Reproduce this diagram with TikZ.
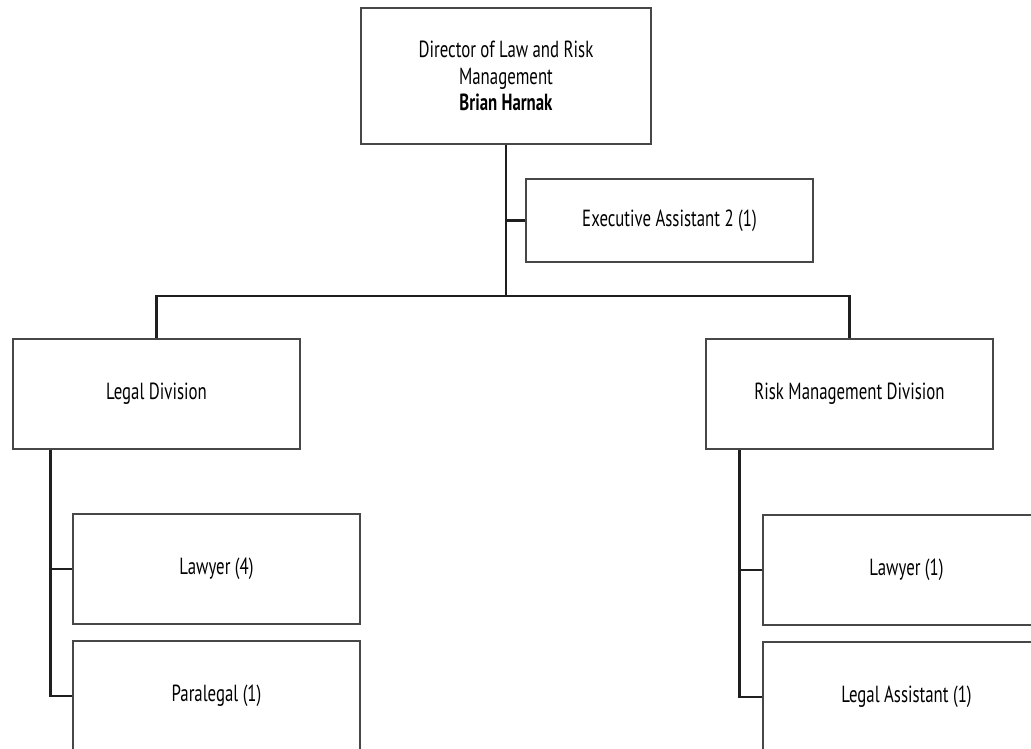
\documentclass[tikz,border=0pt]{standalone}
\usepackage{fontspec}
\setmainfont{PT Sans}[FakeStretch=0.72]
\usetikzlibrary{positioning}
\tikzset{every picture/.style={line width=0.75pt}}
\tikzset{unit/.style={draw=black!72, line width=0.8pt, fill=white, align=center,
    font=\fontsize{17.5}{20}\selectfont, minimum width=215.25pt, minimum height=82.5pt, inner sep=0pt},
  link/.style={draw=black!88, line width=1.6pt}}

\begin{document}
\begin{tikzpicture}[x=0.75pt,y=-0.75pt]
  \useasboundingbox (0,0) rectangle (1031,749);
  \clip (0,0) rectangle (1031,749);

  \node [unit, minimum width=217.5pt, minimum height=102pt] (dir) at (506,76)
    {Director of Law and Risk\\Management\\\textbf{Brian Harnak}};
  \node [unit, minimum height=62.25pt] (exec) at (669.5,220.5) {Executive Assistant 2 (1)};

  \node [unit] (legal) at (156.5,394) {Legal Division};
  \node [unit] (risk)  at (849.5,394) {Risk Management Division};

  \node [unit] (law4) at (216.5,569) {Lawyer (4)};
  \node [unit] (para) at (216.5,696) {Paralegal (1)};
  \node [unit] (law1) at (906.5,570) {Lawyer (1)};
  \node [unit] (asst) at (906.5,697) {Legal Assistant (1)};

  \coordinate (bar) at (506,296);
  \coordinate (lstem) at ([xshift=28.5pt]legal.south west);
  \coordinate (rstem) at ([xshift=25.5pt]risk.south west);

  \draw [link] (dir.south) -- (bar);
  \draw [link] (exec.west) -- (exec.west -| bar);
  \draw [link] (legal.north) |- (bar) -| (risk.north);

  \draw [link] (lstem) |- (para.west);
  \draw [link] (lstem |- law4.west) -- (law4.west);
  \draw [link] (rstem) |- (asst.west);
  \draw [link] (rstem |- law1.west) -- (law1.west);
\end{tikzpicture}
\end{document}
